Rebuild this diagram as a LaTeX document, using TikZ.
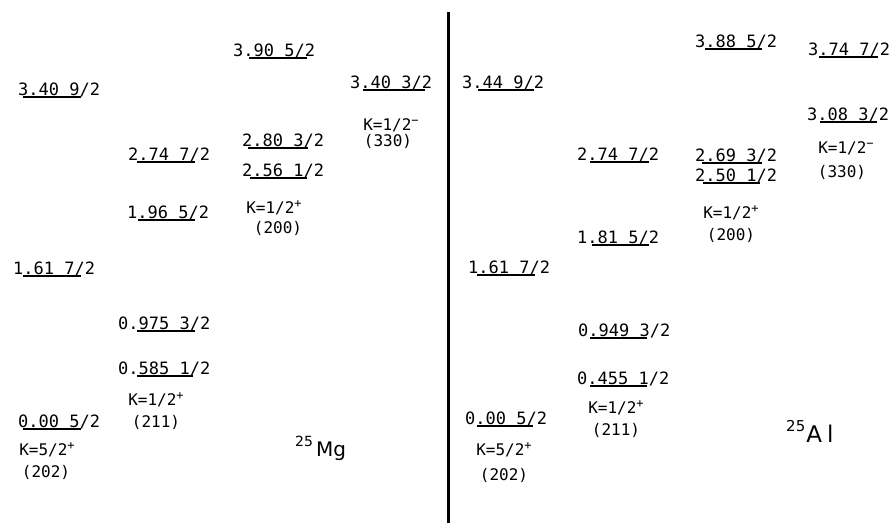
\documentclass[tikz,border=0pt]{standalone}
\usepackage{fontspec}
\setmainfont{DejaVu Sans}
\setsansfont{DejaVu Sans}
\setmonofont{DejaVu Sans Mono}
\newcommand\lev[6]{\node[lbl] (#1) at (#2,#3) {#4};\draw[ulin] (#5,#3+2) -- (#6,#3+2);}
\newcommand\supsign[1]{\raisebox{5.5pt}{\fontsize{12}{12}\selectfont #1}}
\begin{document}
\begin{tikzpicture}[x=1pt,y=-1pt,
  lbl/.style={font=\ttfamily\fontsize{17}{17}\selectfont, inner sep=0pt, anchor=base west},
  klbl/.style={font=\ttfamily\fontsize{16}{16}\selectfont, inner sep=0pt, anchor=base},
  ulin/.style={line width=1.8pt},
  divider/.style={line width=2.5pt},
  iso/.style={font=\sffamily, inner sep=0pt, anchor=base west}]
\useasboundingbox (0,0) rectangle (894,523);
% divider
\coordinate (dtop) at (448.5,12);
\coordinate (dbot) at (448.5,523);
\draw[divider] (dtop) -- (dbot);
% ---------- 25Mg ----------
\lev{m340}{18}{95}{3.40 9/2}{23}{81}
\lev{m274}{128}{160}{2.74 7/2}{137}{195}
\lev{m196}{127}{218}{1.96 5/2}{138}{195}
\lev{m390}{233}{56}{3.90 5/2}{249}{307}
\lev{m280}{242}{146}{2.80 3/2}{248}{308}
\lev{m256}{242}{176}{2.56 1/2}{250}{307}
\lev{m340b}{350}{88}{3.40 3/2}{363}{425}
\lev{m161}{13}{274}{1.61 7/2}{23}{81}
\lev{m0975}{118}{329}{0.975 3/2}{137}{195}
\lev{m0585}{118}{374}{0.585 1/2}{137}{193}
\lev{m000}{18}{427}{0.00 5/2}{23}{81}
\node[klbl] (mk1) at (391,130) {K=1/2\supsign{−}};
\node[klbl] (mn1) at (388,146) {(330)};
\node[klbl] (mk2) at (274,213) {K=1/2\supsign{+}};
\node[klbl] (mn2) at (278,233) {(200)};
\node[klbl] (mk3) at (156,405) {K=1/2\supsign{+}};
\node[klbl] (mn3) at (156,427) {(211)};
\node[klbl] (mk4) at (47,455) {K=5/2\supsign{+}};
\node[klbl] (mn4) at (46,477) {(202)};
\node[iso] (mg) at (295,456) {\raisebox{10pt}{\fontsize{14}{14}\selectfont 25}\kern3pt\fontsize{20}{20}\selectfont Mg};
% ---------- 25Al ----------
\lev{a344}{462}{88}{3.44 9/2}{478}{534}
\lev{a274}{577}{160}{2.74 7/2}{590}{649}
\lev{a181}{577}{243}{1.81 5/2}{592}{649}
\lev{a161}{468}{273}{1.61 7/2}{477}{535}
\lev{a388}{695}{47}{3.88 5/2}{705}{762}
\lev{a374}{808}{55}{3.74 7/2}{819}{878}
\lev{a308}{807}{120}{3.08 3/2}{820}{877}
\lev{a269}{695}{161}{2.69 3/2}{702}{762}
\lev{a250}{695}{181}{2.50 1/2}{703}{760}
\lev{a0949}{578}{336}{0.949 3/2}{590}{647}
\lev{a0455}{577}{384}{0.455 1/2}{590}{647}
\lev{a000}{465}{424}{0.00 5/2}{477}{533}
\node[klbl] (ak1) at (846,153) {K=1/2\supsign{−}};
\node[klbl] (an1) at (842,177) {(330)};
\node[klbl] (ak2) at (731,218) {K=1/2\supsign{+}};
\node[klbl] (an2) at (731,240) {(200)};
\node[klbl] (ak3) at (616,413) {K=1/2\supsign{+}};
\node[klbl] (an3) at (616,435) {(211)};
\node[klbl] (ak4) at (504,455) {K=5/2\supsign{+}};
\node[klbl] (an4) at (504,480) {(202)};
\node[iso] (al) at (786,442) {\raisebox{11pt}{\fontsize{15}{15}\selectfont 25}\kern1pt\fontsize{23}{23}\selectfont A\kern5pt l};
\end{tikzpicture}
\end{document}
